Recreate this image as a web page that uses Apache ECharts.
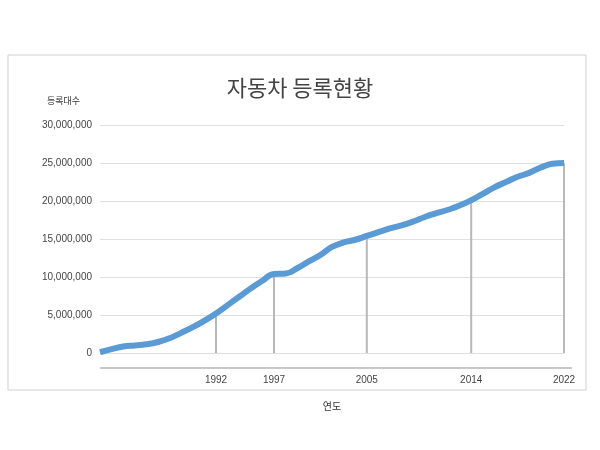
<!DOCTYPE html><html><head><meta charset="utf-8"><script src="https://cdn.jsdelivr.net/npm/echarts@6/dist/echarts.min.js"></script></head><body style="margin:0;background:#fff"><div id="c" style="width:600px;height:450px"></div><script>
const years=[];for(let y=1982;y<=2022;y++)years.push(String(y));
const registrations=[100000,500000,850000,1000000,1150000,1450000,1950000,2650000,3400000,4250000,5200000,6300000,7400000,8500000,9500000,10400000,10450000,11150000,12050000,12900000,13950000,14550000,14900000,15400000,15900000,16400000,16800000,17300000,17900000,18400000,18850000,19400000,20100000,20950000,21800000,22500000,23200000,23700000,24400000,24900000,25000000];
const dropYears=['1992','1997','2005','2014','2022'];
const drops=years.map((y,i)=>dropYears.includes(y)?registrations[i]:null);
const ch=echarts.init(document.getElementById('c'));
ch.setOption({
 graphic:[{type:'rect',shape:{x:8,y:55,width:578,height:335},style:{fill:'none',stroke:'#d0d0d0',lineWidth:1}},
  {type:'line',shape:{x1:100,y1:368,x2:572,y2:368},style:{stroke:'#c8c8c8',lineWidth:2}}],
 title:{text:'자동차 등록현황',left:'center',top:72,textStyle:{fontSize:22,fontWeight:'normal',color:'#444',fontFamily:'Noto Sans CJK KR'}},
 grid:{left:100,right:36,top:125,bottom:97,show:false},
 xAxis:{type:'category',data:years,boundaryGap:false,name:'연도',nameLocation:'middle',nameGap:48,nameTextStyle:{fontSize:10,color:'#333',fontFamily:'Noto Sans CJK KR'},
  axisTick:{show:false},axisLine:{show:false},
  axisLabel:{interval:0,margin:22,color:'#444',fontSize:10,formatter:v=>dropYears.includes(v)?v:''}},
 yAxis:{type:'value',min:0,max:30000000,interval:5000000,name:'등록대수',nameLocation:'end',nameGap:20,nameTextStyle:{fontSize:9,color:'#333',align:'right',padding:[0,20,0,0],fontFamily:'Noto Sans CJK KR'},
  axisLabel:{color:'#444',fontSize:10,formatter:v=>v.toLocaleString('en-US')},splitLine:{lineStyle:{color:'#e0e0e0'}},axisLine:{show:false}},
 series:[
  {type:'bar',data:drops,barWidth:2,itemStyle:{color:'#b8b8b8'},silent:true},
  {type:'line',data:registrations,smooth:true,showSymbol:false,lineStyle:{width:6,color:'#5b9bd5'},z:5}
 ]
});
</script></body></html>
